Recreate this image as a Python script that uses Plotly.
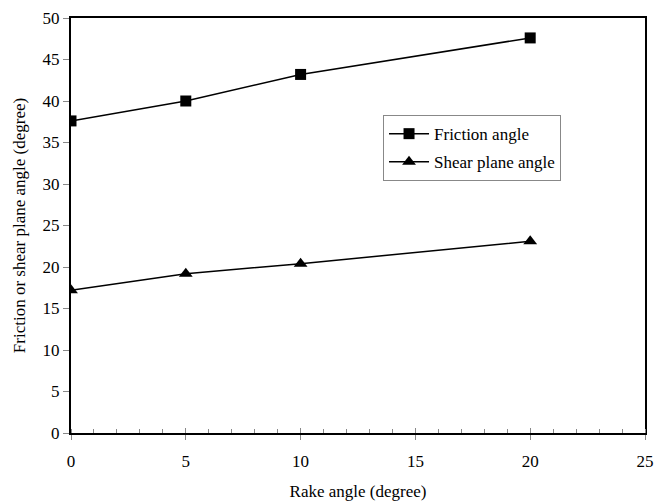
import plotly.graph_objects as go

rake = [0, 5, 10, 20]
friction = [37.6, 40.0, 43.2, 47.6]
shear = [17.2, 19.2, 20.4, 23.1]
x_ticks = [0, 5, 10, 15, 20, 25]
y_ticks = [0, 5, 10, 15, 20, 25, 30, 35, 40, 45, 50]

FONT = "Liberation Serif, Times New Roman, serif"
FS = 17
TICKC = "#888888"

fig = go.Figure()
fig.add_trace(go.Scatter(x=rake, y=friction, mode="lines+markers", name="Friction angle",
                         legendgroup="a",
                         line=dict(color="black", width=1.5),
                         marker=dict(symbol="square", size=11, color="black")))
fig.add_trace(go.Scatter(x=rake, y=shear, mode="lines+markers", name="Shear plane angle",
                         legendgroup="b",
                         line=dict(color="black", width=1.5),
                         marker=dict(symbol="triangle-up", size=12, color="black")))
# empty helper trace so the overlay axis (inner half of major x ticks) is drawn
fig.add_trace(go.Scatter(x=[], y=[], xaxis="x2", showlegend=False, hoverinfo="skip"))

fig.update_layout(
    width=667, height=501,
    margin=dict(l=71, r=22, t=18, b=68),
    paper_bgcolor="white", plot_bgcolor="white",
    font=dict(family=FONT, size=FS, color="black"),
    showlegend=True,
    legend=dict(x=0.5436, y=0.766, xanchor="left", yanchor="top",
                bordercolor=TICKC, borderwidth=1, bgcolor="white",
                font=dict(family=FONT, size=FS), traceorder="grouped", tracegroupgap=3,
                itemwidth=40, itemsizing="trace"),
    xaxis=dict(range=[0, 25], tickvals=x_ticks, ticks="outside", ticklen=5,
               tickcolor=TICKC, tickwidth=1, showgrid=False, zeroline=False,
               showline=True, linecolor="black", linewidth=2, mirror=True,
               automargin=False, ticklabelstandoff=7,
               minor=dict(dtick=1, ticks="inside", ticklen=4, tickcolor=TICKC, tickwidth=1),
               title=dict(text="Rake angle (degree)", standoff=17,
                          font=dict(family=FONT, size=FS)),
               tickfont=dict(family=FONT, size=FS)),
    xaxis2=dict(range=[0, 25], tickvals=x_ticks, ticks="inside", ticklen=5,
                tickcolor=TICKC, tickwidth=1, showgrid=False, zeroline=False,
                showline=False, showticklabels=False, overlaying="x", side="bottom",
                automargin=False),
    yaxis=dict(range=[0, 50], tickvals=y_ticks, ticks="outside", ticklen=6,
               tickcolor=TICKC, tickwidth=1, showgrid=False, zeroline=False,
               showline=True, linecolor="black", linewidth=2, mirror=True,
               automargin=False,
               title=dict(text="Friction or shear plane angle (degree)", standoff=13,
                          font=dict(family=FONT, size=FS)),
               tickfont=dict(family=FONT, size=FS)),
)

fig.write_html("out.html", config={"displayModeBar": False},
               post_script="document.body.style.margin='0';document.body.style.overflow='hidden';")
